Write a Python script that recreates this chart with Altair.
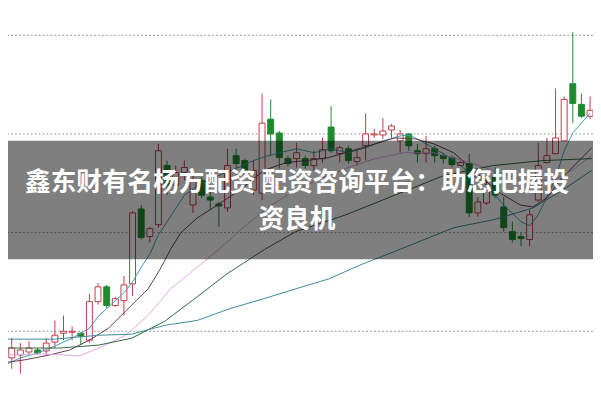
import altair as alt
import pandas as pd

# ---- candle data (price units) ----
opens  = [6.7, 7.3, 7.6, 7.9, 8.1, 8.0, 8.9, 9.8, 9.9, 9.8,
          9.1, 13.0, 14.5, 12.6, 13.1, 14.8, 22.4, 19.6, 20.8, 26.8,
          24.8, 26.1, 22.8, 25.3, 23.6, 22.9, 22.5, 27.8, 27.3, 24.3,
          24.0, 31.5, 30.1, 27.5, 27.5, 27.5, 26.8, 27.5, 30.7, 28.0,
          28.5, 27.2, 28.8, 29.9, 29.9, 30.4, 29.3, 30.0, 28.3, 28.0,
          28.5, 27.8, 27.6, 26.8, 27.0, 22.0, 23.0, 25.6, 22.6, 20.1,
          19.6, 19.3, 23.3, 27.1, 28.0, 29.3, 35.1, 33.0, 31.8]
closes = [7.3, 8.3, 8.1, 8.3, 7.8, 8.8, 9.6, 10.0, 10.0, 9.5,
          13.0, 14.5, 12.6, 13.3, 14.7, 22.0, 19.5, 20.4, 28.3, 24.8,
          26.1, 26.6, 25.3, 23.8, 23.3, 22.7, 26.8, 27.0, 26.3, 26.3,
          31.1, 30.0, 27.6, 27.0, 28.1, 26.8, 27.5, 28.4, 28.3, 28.6,
          27.3, 27.6, 30.0, 30.0, 30.3, 30.8, 30.0, 28.8, 28.0, 28.5,
          27.8, 27.5, 26.9, 27.1, 22.0, 23.1, 24.3, 23.8, 20.5, 19.3,
          19.4, 21.8, 26.8, 27.8, 29.6, 33.5, 33.1, 31.8, 32.4]
highs  = [7.6, 9.3, 8.8, 9.0, 8.3, 9.3, 11.1, 11.6, 10.5, 9.9,
          13.8, 14.9, 14.7, 13.5, 15.6, 22.2, 22.8, 20.6, 29.0, 27.3,
          26.8, 27.3, 26.3, 25.6, 24.3, 23.1, 28.5, 28.5, 27.5, 27.3,
          34.1, 33.5, 30.3, 27.8, 29.1, 27.8, 28.3, 29.6, 32.8, 28.8,
          28.8, 28.5, 32.1, 30.5, 31.6, 31.0, 30.4, 30.1, 29.0, 29.8,
          28.8, 28.1, 27.8, 27.3, 28.0, 23.6, 25.3, 26.6, 23.6, 21.1,
          20.0, 22.3, 29.1, 29.6, 34.6, 33.8, 40.3, 34.1, 33.8]
lows   = [6.3, 6.2, 5.7, 7.6, 7.6, 7.5, 8.3, 9.1, 9.1, 8.6,
          8.8, 12.7, 12.3, 12.5, 11.6, 13.6, 19.3, 19.0, 20.5, 23.8,
          24.3, 25.3, 22.0, 23.5, 22.3, 20.6, 22.1, 26.5, 25.6, 23.8,
          23.3, 27.8, 26.5, 26.7, 26.6, 26.5, 26.3, 27.1, 28.1, 27.1,
          27.0, 26.8, 27.3, 29.6, 29.5, 29.6, 28.1, 28.3, 27.1, 27.1,
          27.1, 27.0, 26.6, 26.7, 21.6, 21.6, 22.8, 23.5, 20.1, 19.0,
          18.6, 18.6, 23.1, 27.0, 28.0, 29.3, 31.1, 31.6, 31.5]

# ---- moving averages (candle index, price) ----
ma5_idx = [0, 2, 4, 6, 8, 10, 11, 12, 13, 14, 15, 16, 17, 18, 19, 21, 23, 25, 27, 29,
           30, 32, 34, 36, 38, 40, 42, 44, 46, 47, 48, 50, 52, 54, 56, 58, 60, 61, 62,
           63, 64, 65, 66, 67, 68]
ma5_val = [6.5, 7.3, 7.8, 8.5, 9.3, 10.3, 11.5, 12.3, 13.1, 13.9, 15.0, 16.5, 17.8, 19.8,
           21.1, 23.8, 25.0, 25.8, 26.5, 27.3, 27.6, 28.1, 28.5, 28.1, 28.5, 28.1, 28.6,
           29.3, 29.8, 29.9, 29.5, 28.5, 27.5, 26.1, 24.8, 22.8, 21.1, 20.7, 21.8, 23.6,
           25.5, 28.3, 30.1, 31.1, 32.1]

ma10_idx = [0, 2.5, 5.4, 7.7, 10, 12.2, 13.7, 15.3, 16.8, 18.2, 19.4, 20.6, 22.5, 24.5,
            27.4, 30.2, 32.8, 35.1, 37.7, 41.6, 45.4, 47.7, 49.9, 52.2, 54.5, 57.6, 59.9,
            61.4, 63.1, 64.5, 66.5, 68.2]
ma10_val = [6.8, 7.1, 7.6, 8.1, 9.1, 10.3, 11.6, 13.0, 14.3, 16.3, 18.3, 20.0, 21.5, 22.6,
            24.3, 26.3, 27.1, 27.3, 27.6, 28.6, 29.6, 29.5, 29.0, 28.1, 26.3, 24.0, 22.8,
            22.6, 23.6, 25.3, 27.1, 28.6]

ma20_idx = [0, 5, 8.8, 11.1, 14.2, 16.8, 19.4, 22.5, 25, 28.2, 31.1, 33.9, 36.8, 39.7,
            43.1, 46.5, 49.9, 53.4, 56.8, 60.2, 63.7, 65.9, 68.2]
ma20_val = [7.6, 7.7, 7.5, 8.3, 9.6, 11.6, 14.3, 16.5, 18.3, 20.8, 22.8, 24.3, 25.5, 26.5,
            27.5, 28.1, 28.1, 27.3, 26.3, 25.3, 25.3, 26.3, 27.8]

ma30_idx = [0, 6.5, 11.1, 14.9, 18.7, 22.5, 25.9, 30.3, 33.9, 39.7, 45.4, 51.1, 56.8,
            62.5, 68.2]
ma30_val = [8.3, 8.3, 8.6, 9.3, 11.0, 13.5, 15.8, 18.3, 20.1, 21.8, 23.8, 25.8, 26.8,
            27.3, 27.5]

ma60_idx = [0, 5.9, 11.1, 14.9, 18.7, 22.5, 26.3, 30.2, 33.9, 37.7, 41.6, 45.4, 48.8,
            52.2, 56.8, 61.4, 64.8, 68.2]
ma60_val = [9.2, 9.2, 9.6, 9.7, 10.6, 11.1, 12.3, 13.3, 14.3, 15.3, 16.8, 18.1, 19.3,
            20.5, 21.3, 22.5, 24.3, 26.3]

grid_levels = [10, 20, 30, 40]
banner_lines = ["鑫东财有名杨方配资 配资咨询平台：助您把握投", "资良机"]

RED = "#c23a48"
GREEN = "#1f8a2e"

xs = alt.Scale(domain=[0.57, 68.34], nice=False, zero=False, padding=0)
ys = alt.Scale(domain=[3.2, 42.5], nice=False, zero=False, padding=0)

candles = pd.DataFrame({"i": list(range(len(opens))), "o": opens, "c": closes,
                        "h": highs, "l": lows})
candles["dir"] = ["up" if c >= o else "down" for o, c in zip(opens, closes)]

ma_rows = []
for name, idx, val in [("MA5", ma5_idx, ma5_val), ("MA10", ma10_idx, ma10_val),
                       ("MA20", ma20_idx, ma20_val), ("MA30", ma30_idx, ma30_val),
                       ("MA60", ma60_idx, ma60_val)]:
    for k, v in zip(idx, val):
        ma_rows.append({"ma": name, "i": k, "v": v})
ma_df = pd.DataFrame(ma_rows)

grid = alt.Chart(pd.DataFrame({"g": grid_levels})).mark_rule(
    color="#9a9a9a", strokeWidth=1, strokeDash=[2, 2]
).encode(y=alt.Y("g:Q", scale=ys, axis=None))

wicks = alt.Chart(candles).mark_rule(strokeWidth=1, clip=True).encode(
    x=alt.X("i:Q", scale=xs, axis=None),
    y=alt.Y("l:Q", scale=ys, axis=None),
    y2="h:Q",
    stroke=alt.Stroke("dir:N", scale=alt.Scale(domain=["up", "down"], range=[RED, GREEN]),
                      legend=None),
)

bodies = alt.Chart(candles).mark_bar(size=6, strokeWidth=1, clip=True).encode(
    x=alt.X("i:Q", scale=xs, axis=None),
    y=alt.Y("o:Q", scale=ys, axis=None),
    y2="c:Q",
    fill=alt.Fill("dir:N", scale=alt.Scale(domain=["up", "down"], range=["#ffffff", GREEN]),
                  legend=None),
    stroke=alt.Stroke("dir:N", scale=alt.Scale(domain=["up", "down"], range=[RED, GREEN]),
                      legend=None),
)

lines = alt.Chart(ma_df).mark_line(strokeWidth=1, clip=True).encode(
    x=alt.X("i:Q", scale=xs, axis=None),
    y=alt.Y("v:Q", scale=ys, axis=None),
    color=alt.Color("ma:N", scale=alt.Scale(
        domain=["MA5", "MA10", "MA20", "MA30", "MA60"],
        range=["#3f9fb0", "#6a3a56", "#e2a6e4", "#2e6b3c", "#3a8c9c"]), legend=None),
    order="i:Q",
)

banner = alt.Chart(pd.DataFrame({"a": [0]})).mark_rect(color="#000000", opacity=0.5).encode(
    x=alt.value(-8), x2=alt.value(600), y=alt.value(132), y2=alt.value(252)
)

text_df = pd.DataFrame({"t": banner_lines, "row": [0, 1]})
text1 = alt.Chart(text_df.iloc[[0]]).mark_text(
    color="white", fontSize=26, fontWeight="bold", font="Noto Sans CJK SC",
    align="center", baseline="middle"
).encode(text="t:N", x=alt.value(293), y=alt.value(175))
text2 = alt.Chart(text_df.iloc[[1]]).mark_text(
    color="white", fontSize=26, fontWeight="bold", font="Noto Sans CJK SC",
    align="center", baseline="middle"
).encode(text="t:N", x=alt.value(293), y=alt.value(212))

chart = alt.layer(grid, wicks, bodies, lines, banner, text1, text2).resolve_scale(
    color="independent", stroke="independent", fill="independent"
).properties(
    width=593, height=393, autosize=alt.AutoSizeParams(type="none"), padding=0,
    background="white"
).configure_view(stroke=None)

chart.save("out.html", embed_options={"renderer": "svg", "actions": False})
